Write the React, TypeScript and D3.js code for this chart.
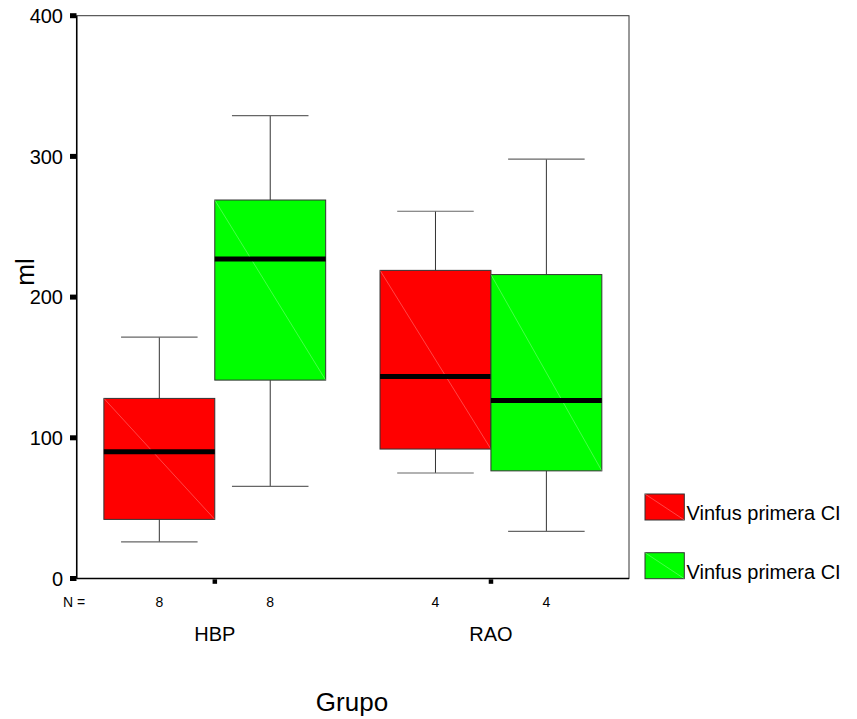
import React, { useRef, useEffect } from 'react';
import * as d3 from 'd3';

// --- data ---
const groups = ['HBP', 'RAO'];
const seriesNames = ['Vinfus primera CI', 'Vinfus primera CI'];
const yTicks = [0, 100, 200, 300, 400];

// series 1 (red)
const redLow = [26, 75];
const redQ1 = [42, 92];
const redMedian = [90, 143.5];
const redQ3 = [128, 219];
const redHigh = [171.5, 261];
const redN = [8, 4];

// series 2 (green)
const greenLow = [65.5, 33.5];
const greenQ1 = [141, 76.5];
const greenMedian = [227, 126.5];
const greenQ3 = [269, 216];
const greenHigh = [329, 298];
const greenN = [8, 4];

const colors = ['#ff0000', '#00ff00'];
const FONT = '"Liberation Sans", Arial, sans-serif';

const BoxChart = () => {
    const ref = useRef<SVGSVGElement>(null);

    useEffect(() => {
        const svg = d3.select(ref.current);
        svg.selectAll('*').remove();

        const left = 76.7, right = 629, top = 15.7, bottom = 578.5;

        const y = d3.scaleLinear().domain([0, 400]).range([bottom, top]);
        const xGroup = d3.scaleBand().domain(groups).range([left, right]).padding(0);
        const xSeries = d3.scaleBand<number>()
            .domain([0, 1])
            .range([0, xGroup.bandwidth()])
            .paddingInner(0)
            .paddingOuter(0.245);

        const series = [
            { low: redLow, q1: redQ1, med: redMedian, q3: redQ3, high: redHigh, n: redN },
            { low: greenLow, q1: greenQ1, med: greenMedian, q3: greenQ3, high: greenHigh, n: greenN },
        ];

        const rows = series.flatMap((s, si) => groups.map((g, gi) => ({
            si, g,
            low: s.low[gi], q1: s.q1[gi], med: s.med[gi], q3: s.q3[gi], high: s.high[gi], n: s.n[gi],
        })));

        // --- frame ---
        svg.append('rect')
            .attr('x', left).attr('y', top)
            .attr('width', right - left).attr('height', bottom - top)
            .attr('fill', 'none').attr('stroke', '#333').attr('stroke-width', 1);
        svg.append('line')
            .attr('x1', left).attr('x2', left).attr('y1', top).attr('y2', bottom)
            .attr('stroke', '#000').attr('stroke-width', 1.5);
        svg.append('line')
            .attr('x1', left).attr('x2', right).attr('y1', bottom).attr('y2', bottom)
            .attr('stroke', '#000').attr('stroke-width', 1.5);

        const bw = xSeries.bandwidth();
        const capW = bw * 0.69;

        const box = svg.append('g').selectAll('g').data(rows).enter().append('g')
            .attr('transform', d => `translate(${(xGroup(d.g) as number) + (xSeries(d.si) as number)},0)`);

        // whiskers
        box.append('line')
            .attr('x1', bw / 2).attr('x2', bw / 2)
            .attr('y1', d => y(d.high)).attr('y2', d => y(d.q3))
            .attr('stroke', '#333').attr('stroke-width', 1);
        box.append('line')
            .attr('x1', bw / 2).attr('x2', bw / 2)
            .attr('y1', d => y(d.q1)).attr('y2', d => y(d.low))
            .attr('stroke', '#333').attr('stroke-width', 1);
        box.append('line')
            .attr('x1', (bw - capW) / 2).attr('x2', (bw + capW) / 2)
            .attr('y1', d => y(d.high)).attr('y2', d => y(d.high))
            .attr('stroke', '#666').attr('stroke-width', 1.2);
        box.append('line')
            .attr('x1', (bw - capW) / 2).attr('x2', (bw + capW) / 2)
            .attr('y1', d => y(d.low)).attr('y2', d => y(d.low))
            .attr('stroke', '#666').attr('stroke-width', 1.2);

        // boxes
        box.append('rect')
            .attr('x', 0).attr('width', bw)
            .attr('y', d => y(d.q3)).attr('height', d => y(d.q1) - y(d.q3))
            .attr('fill', d => colors[d.si])
            .attr('stroke', '#333').attr('stroke-width', 1);
        box.append('line')
            .attr('x1', 0).attr('x2', bw)
            .attr('y1', d => y(d.q3)).attr('y2', d => y(d.q1))
            .attr('stroke', '#fff').attr('stroke-opacity', 0.35).attr('stroke-width', 0.8);
        // median
        box.append('line')
            .attr('x1', 0).attr('x2', bw)
            .attr('y1', d => y(d.med)).attr('y2', d => y(d.med))
            .attr('stroke', '#000').attr('stroke-width', 5);

        // N labels
        box.append('text')
            .attr('x', bw / 2).attr('y', 606.5)
            .attr('text-anchor', 'middle')
            .style('font-family', FONT).style('font-size', '14px')
            .text(d => d.n);
        svg.append('text')
            .attr('x', 63).attr('y', 606.5)
            .style('font-family', FONT).style('font-size', '14px')
            .text('N =');

        // --- y axis ticks ---
        const yt = svg.append('g').selectAll('g').data(yTicks).enter().append('g');
        yt.append('rect')
            .attr('x', 70).attr('y', d => y(d) - 2.5)
            .attr('width', 6.5).attr('height', 5)
            .attr('fill', '#000');
        yt.append('text')
            .attr('x', 63).attr('y', d => y(d))
            .attr('dy', '0.36em')
            .attr('text-anchor', 'end')
            .style('font-family', FONT).style('font-size', '20px')
            .text(d => d);

        // --- group ticks and labels ---
        const gt = svg.append('g').selectAll('g').data(groups).enter().append('g')
            .attr('transform', d => `translate(${(xGroup(d) as number) + xGroup.bandwidth() / 2},0)`);
        gt.append('rect')
            .attr('x', -2.2).attr('y', bottom + 0.8)
            .attr('width', 4.5).attr('height', 4.5)
            .attr('fill', '#000');
        gt.append('text')
            .attr('y', 640.5)
            .attr('text-anchor', 'middle')
            .style('font-family', FONT).style('font-size', '20px')
            .text(d => d);

        // --- axis titles ---
        svg.append('text')
            .attr('transform', 'translate(33.5,272) rotate(-90)')
            .attr('text-anchor', 'middle')
            .style('font-family', FONT).style('font-size', '26px')
            .text('ml');
        svg.append('text')
            .attr('x', 352).attr('y', 711)
            .attr('text-anchor', 'middle')
            .style('font-family', FONT).style('font-size', '26px')
            .text('Grupo');

        // --- legend ---
        const legendTops = [494, 552.7];
        const lg = svg.append('g').selectAll('g').data(seriesNames).enter().append('g')
            .attr('transform', (d, i) => `translate(645,${legendTops[i]})`);
        lg.append('rect')
            .attr('width', 39.3).attr('height', 26)
            .attr('fill', (d, i) => colors[i])
            .attr('stroke', '#333').attr('stroke-width', 1);
        lg.append('line')
            .attr('x1', 0).attr('y1', 0).attr('x2', 39.3).attr('y2', 26)
            .attr('stroke', '#fff').attr('stroke-opacity', 0.35).attr('stroke-width', 0.8);
        lg.append('text')
            .attr('x', 41.5).attr('y', 26)
            .style('font-family', FONT).style('font-size', '20px')
            .text(d => d);
    }, []);

    return (
        <svg ref={ref} width={857} height={719}
            style={{ position: 'absolute', left: 0, top: 0, background: '#fff' }}></svg>
    );
};

export default function App() {
    return <BoxChart />;
}
